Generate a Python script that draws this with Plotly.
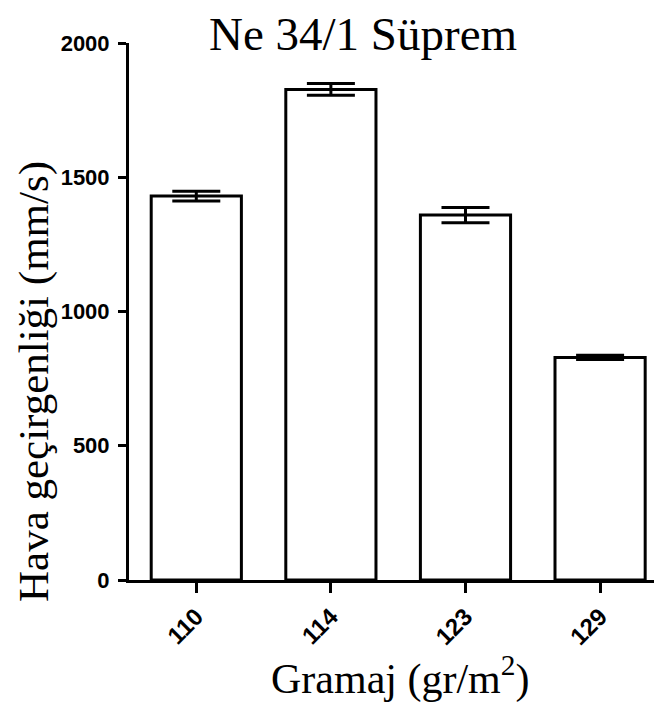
import plotly.graph_objects as go

categories = ["110", "114", "123", "129"]
values = [1430, 1827, 1359, 829]
errors = [18, 22, 28, 8]
y_ticks = [0, 500, 1000, 1500, 2000]

# page body adds an 8px margin, so the figure is 8px smaller and shifted
OFF = 8
W, H = 662 - OFF, 713 - OFF
L, R, T, B = 129 - OFF, 0, 43 - OFF, 133
pw, ph = W - L - R, H - T - B

def px_x(x):
    return (x - OFF - L) / pw

def px_y(y):
    return (H - B - (y - OFF)) / ph

fig = go.Figure()
fig.add_trace(go.Bar(
    x=categories, y=values,
    marker=dict(color="white", line=dict(color="black", width=3)),
    width=0.67,
    error_y=dict(type="data", array=errors, visible=True, color="black", thickness=3, width=24),
))

serif = "Liberation Serif, Times New Roman, serif"
sans = "Liberation Sans, Arial, sans-serif"

fig.update_layout(
    width=W, height=H,
    margin=dict(l=L, r=R, t=T, b=B),
    plot_bgcolor="white", paper_bgcolor="white",
    showlegend=False,
    xaxis=dict(
        type="category", range=[-0.5, 3.46],
        showline=True, linecolor="black", linewidth=3,
        ticks="outside", ticklen=10, tickwidth=3, tickcolor="black",
        tickangle=-45, tickfont=dict(family=sans, size=24, color="black", weight="bold"),
        showgrid=False, zeroline=False,
    ),
    yaxis=dict(
        range=[0, 2000], tickvals=y_ticks,
        showline=True, linecolor="black", linewidth=3,
        ticks="outside", ticklen=8, tickwidth=3, tickcolor="black",
        ticklabelstandoff=4,
        tickfont=dict(family=sans, size=22, color="black", weight="bold"),
        showgrid=False, zeroline=False,
    ),
    annotations=[
        dict(text="Ne 34/1 Süprem", xref="paper", yref="paper",
             x=px_x(363), y=px_y(34), xanchor="center", yanchor="middle",
             showarrow=False, font=dict(family=serif, size=47, color="black")),
        dict(text="Hava geçirgenliği (mm/s)", xref="paper", yref="paper",
             x=px_x(34), y=px_y(382), xanchor="center", yanchor="middle",
             textangle=-90, showarrow=False, font=dict(family=serif, size=43, color="black")),
        dict(text="Gramaj (gr/m<sup>2</sup>)", xref="paper", yref="paper",
             x=px_x(400), y=px_y(676), xanchor="center", yanchor="middle",
             showarrow=False, font=dict(family=serif, size=42, color="black")),
    ],
)

fig.write_html("out.html")
